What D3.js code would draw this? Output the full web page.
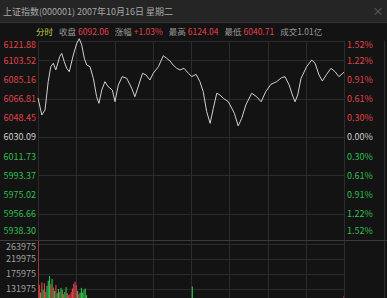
<!DOCTYPE html>
<html>
<head>
<meta charset="utf-8">
<script src="https://cdn.jsdelivr.net/npm/d3@7"></script>
<style>
  body { margin: 0; background: #131313; }
  svg { display: block; }
</style>
</head>
<body>
<div id="chart"></div>
<script>
// Intraday data (minute index from 9:30, 0..240)
const priceMinutes = [0, 3, 5.5, 8, 10, 12, 14, 17, 18.6, 20.6, 22.5, 24.5, 27.7, 30.4, 32.4, 34.3, 36.3, 38.2, 40.8, 43.4, 46, 47.8, 50, 52.5, 55, 58.3, 60.4, 63, 66, 69.6, 73.5, 76, 82, 84.7, 87.8, 90.4, 94.4, 98.3, 101, 103.5, 106, 108.8, 111.4, 114.5, 118, 120.5, 124, 127, 129.6, 132.3, 135, 137.5, 140.2, 142.7, 145.3, 149.3, 154, 157, 159.8, 163, 167.6, 171.5, 175, 178.6, 182.7, 187.2, 191, 193.7, 197, 199.5, 201.6, 203.7, 206.3, 210.7, 214.7, 217.3, 220.4, 223, 226.4, 229.8, 233, 236, 240];
const priceValues = [6067.4, 6051.1, 6055.9, 6083.0, 6097.3, 6100.6, 6094.2, 6106.9, 6110.1, 6102.1, 6095.8, 6092.5, 6108.5, 6119.7, 6124.04, 6118.1, 6105.4, 6099.0, 6097.3, 6086.2, 6068.6, 6062.3, 6075.0, 6083.0, 6078.2, 6075.0, 6063.8, 6079.8, 6087.8, 6086.2, 6076.7, 6068.6, 6091.0, 6089.4, 6084.6, 6091.0, 6097.3, 6107.8, 6105.3, 6102.8, 6098.9, 6095.8, 6094.2, 6095.8, 6091.0, 6087.8, 6090.0, 6083.0, 6073.4, 6054.3, 6043.2, 6057.5, 6071.9, 6070.3, 6067.1, 6063.8, 6052.8, 6040.71, 6048.0, 6060.7, 6071.9, 6068.6, 6063.8, 6073.4, 6080.5, 6083.0, 6086.8, 6087.8, 6079.8, 6070.3, 6063.8, 6070.3, 6086.2, 6097.3, 6103.7, 6100.6, 6089.4, 6083.6, 6090.0, 6095.8, 6092.5, 6087.8, 6092.06];

// Volume bars that rise into the visible part of the lower pane
const volMinutes = [0, 1, 2, 3, 4, 5, 6, 7, 8, 9, 10, 11, 12, 13, 14, 15, 16, 17, 18, 19, 20, 21, 22, 23, 24, 25, 26, 27, 28, 29, 30, 31, 32, 33, 34, 35, 36, 37, 38, 121, 240];
const volValues = [420000, 142000, 120000, 150000, 128000, 148000, 122000, 140000, 155000, 169000, 145000, 160000, 135000, 125000, 142000, 118000, 130000, 122000, 134000, 128000, 115000, 122000, 136000, 118000, 112000, 115000, 122000, 132000, 146000, 152000, 142000, 125000, 116000, 120000, 134000, 120000, 128000, 132000, 112000, 138000, 110000];
const volUp = [1, 1, 0, 1, 0, 1, 1, 0, 0, 0, 1, 0, 1, 0, 1, 0, 0, 1, 0, 0, 1, 0, 0, 1, 1, 1, 1, 1, 1, 1, 1, 0, 1, 0, 0, 0, 0, 0, 0, 0, 1];

const prevClose = 6030.09;
const priceTicks = [6121.88, 6103.52, 6085.16, 6066.81, 6048.45, 6030.09, 6011.73, 5993.37, 5975.02, 5956.66, 5938.30];
const pctTicks = ['1.52%', '1.22%', '0.91%', '0.61%', '0.30%', '0.00%', '0.30%', '0.61%', '0.91%', '1.22%', '1.52%'];
const volTicks = [263975, 219975, 175975, 131975];
const timeGrid = [0, 30, 60, 90, 120, 150, 180, 210, 240];

const titleText = '上证指数(000001) 2007年10月16日 星期二';
const infoItems = [
    { t: '分时', c: '#c8c84a' }, { t: '收盘', c: '#9a9a9a' }, { t: '6092.06', c: '#e0424a' },
    { t: '涨幅', c: '#9a9a9a' }, { t: '+1.03%', c: '#e0424a' }, { t: '最高', c: '#9a9a9a' },
    { t: '6124.04', c: '#e0424a' }, { t: '最低', c: '#9a9a9a' }, { t: '6040.71', c: '#e0424a' },
    { t: '成交1.01亿', c: '#9a9a9a' }
];

const W = 387, H = 298;
const red = '#e0424a', green = '#2fbf4f', grid = '#2c2c2c';
const font = '"Noto Sans CJK SC", "Noto Sans", sans-serif';

const svg = d3.select('#chart').append('svg')
    .attr('width', W).attr('height', H)
    .style('font-family', font);

svg.append('rect').attr('width', W).attr('height', H).attr('fill', '#131313');

// Title bar
svg.append('rect').attr('width', W).attr('height', 22).attr('fill', '#252525');
svg.append('text').attr('x', 3).attr('y', 15).attr('fill', '#a8a8a8')
    .attr('font-size', 9).text(titleText);
svg.append('text').attr('x', 378).attr('y', 16).attr('fill', '#666')
    .attr('font-size', 11).attr('text-anchor', 'middle').text('×');

// Info line
const info = svg.append('text').attr('x', 36).attr('y', 35).attr('font-size', 8.5);
infoItems.forEach((d, i) => {
    info.append('tspan').attr('dx', i === 0 ? 0 : (i % 2 === 1 ? 6 : 2)).attr('fill', d.c).text(d.t);
});

// Scales
const left = 38, right = 344;
const x = d3.scaleLinear().domain([0, 240]).range([left, right]);
const y = d3.scaleLinear().domain([5938.30, 6121.88]).range([233, 41]);
const yVol = d3.scaleLinear().domain([131975, 263975]).range([288.5, 244]);
const volTop = 240;

// Grid
const g = svg.append('g').attr('stroke', grid).attr('stroke-width', 1).attr('shape-rendering', 'crispEdges');
g.selectAll('.v').data(timeGrid).enter().append('line')
    .attr('x1', d => Math.round(x(d)) + 0.5).attr('x2', d => Math.round(x(d)) + 0.5)
    .attr('y1', 41).attr('y2', H);
g.selectAll('.h').data(priceTicks.filter((d, i) => i % 2 === 1)).enter().append('line')
    .attr('x1', left).attr('x2', right)
    .attr('y1', d => Math.round(y(d)) + 0.5).attr('y2', d => Math.round(y(d)) + 0.5);
g.selectAll('.hv').data(volTicks).enter().append('line')
    .attr('x1', left).attr('x2', right)
    .attr('y1', d => Math.round(yVol(d)) + 0.5).attr('y2', d => Math.round(yVol(d)) + 0.5);
g.append('line').attr('x1', left).attr('x2', right).attr('y1', 41.5).attr('y2', 41.5);
g.append('line').attr('x1', 0).attr('x2', W).attr('y1', volTop + 0.5).attr('y2', volTop + 0.5).attr('stroke', '#3a3a3a');
g.append('line').attr('x1', 0).attr('x2', W).attr('y1', 22.5).attr('y2', 22.5).attr('stroke', '#333');
g.append('line').attr('x1', W - 2.5).attr('x2', W - 2.5).attr('y1', 41).attr('y2', H);

// Price labels (left) and percent labels (right)
const tickColor = (v, i) => i < 5 ? red : (i === 5 ? '#d0d0d0' : green);
const tickDy = (d, i) => i === 0 ? '0.75em' : (i === priceTicks.length - 1 ? '0.1em' : '0.32em');
const yAxisL = svg.append('g').attr('transform', `translate(${left - 1},0)`)
    .call(d3.axisLeft(y).tickValues(priceTicks).tickSize(0).tickPadding(1).tickFormat(d3.format('.2f')));
yAxisL.select('.domain').remove();
yAxisL.selectAll('text').attr('font-size', 9).attr('font-family', font)
    .attr('fill', (d, i) => tickColor(d, i))
    .attr('dy', tickDy);

const yAxisR = svg.append('g').attr('transform', `translate(${right + 3},0)`)
    .call(d3.axisRight(y).tickValues(priceTicks).tickSize(0).tickPadding(0).tickFormat((d, i) => pctTicks[i]));
yAxisR.select('.domain').remove();
yAxisR.selectAll('text').attr('font-size', 9).attr('font-family', font)
    .attr('fill', (d, i) => tickColor(d, i))
    .attr('dy', tickDy);

// Volume labels
const yAxisV = svg.append('g').attr('transform', `translate(${left - 1},0)`)
    .call(d3.axisLeft(yVol).tickValues(volTicks).tickSize(0).tickPadding(1).tickFormat(d3.format('d')));
yAxisV.select('.domain').remove();
yAxisV.selectAll('text').attr('font-size', 9).attr('font-family', font).attr('fill', '#a0a0a0')
    .attr('dy', (d, i) => i === 0 ? '0.6em' : '0.32em');

// Price line
const pts = priceMinutes.map((m, i) => [m, priceValues[i]]);
svg.append('path').datum(pts)
    .attr('fill', 'none').attr('stroke', '#d0d0d0').attr('stroke-width', 1)
    .attr('d', d3.line().x(d => x(d[0])).y(d => y(d[1])));

// Volume bars (clipped to the lower pane)
svg.append('clipPath').attr('id', 'volClip').append('rect')
    .attr('x', left).attr('y', volTop + 1).attr('width', right - left).attr('height', H - volTop);
svg.append('g').attr('clip-path', 'url(#volClip)')
    .selectAll('rect').data(volMinutes).enter().append('rect')
    .attr('x', d => x(d) - 0.5).attr('width', 1.1)
    .attr('y', (d, i) => yVol(volValues[i]))
    .attr('height', (d, i) => H + 60 - yVol(volValues[i]))
    .attr('fill', (d, i) => volUp[i] ? red : green);
</script>
</body>
</html>
